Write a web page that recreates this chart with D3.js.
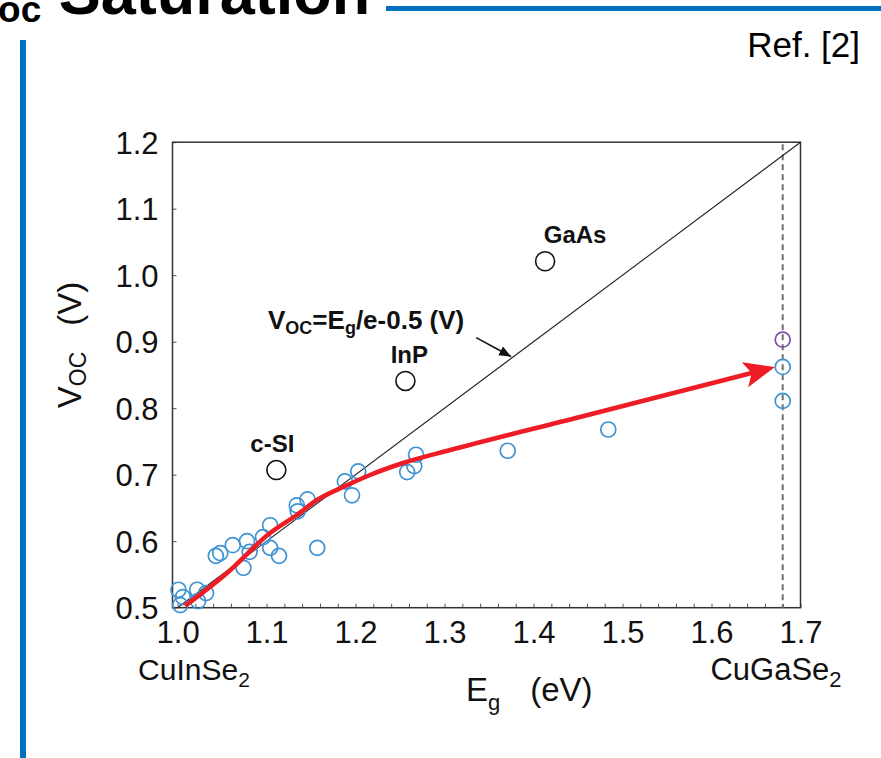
<!DOCTYPE html>
<html><head><meta charset="utf-8">
<script src="https://cdn.jsdelivr.net/npm/d3@7"></script>
<style>
html,body{margin:0;padding:0;background:#fff;overflow:hidden;}
svg{display:block;font-family:"Liberation Sans",Arial,Helvetica,sans-serif;}
</style></head><body>
<svg id="chart" width="881" height="758"></svg>
<script>
// Chalcopyrite (Cu(In,Ga)Se2) cells: band gap (eV) and open-circuit voltage (V)
const cigsEg  = [1.001,1.006,1.003,1.022,1.032,1.023,1.043,1.048,1.062,1.078,1.081,1.074,1.096,1.104,1.104,1.114,
                 1.134,1.135,1.146,1.157,1.188,1.196,1.203,1.258,1.266,1.268,1.371,1.484,1.680,1.680];
const cigsVoc = [0.527,0.516,0.504,0.527,0.522,0.510,0.578,0.582,0.594,0.600,0.584,0.560,0.606,0.624,0.590,0.578,
                 0.654,0.645,0.663,0.590,0.690,0.669,0.705,0.704,0.713,0.730,0.736,0.768,0.862,0.811];

// Single-crystal reference cells
const refNames = ["c-SI","InP","GaAs"];
const refEg    = [1.111,1.256,1.413];
const refVoc   = [0.707,0.841,1.021];

// Further CuGaSe2 result
const cgsEg  = [1.680];
const cgsVoc = [0.903];

// Trend of measured Voc with band gap
const trendEg  = [1.0084,1.0556,1.1039,1.1343,1.1567,1.1860,1.2163,1.2534,1.3062,1.4522,1.6713];
const trendVoc = [0.5026,0.5522,0.6123,0.6398,0.6620,0.6815,0.6996,0.7176,0.7371,0.7867,0.8619];

// Voc = Eg/e - 0.5 V, end points in Eg
const limitEg = [1.0,1.7];
const cuGaSe2Gap = 1.68;

const xTicks = [1.0,1.1,1.2,1.3,1.4,1.5,1.6,1.7];
const yTicks = [0.5,0.6,0.7,0.8,0.9,1.0,1.1,1.2];
const xMinor = d3.range(1.0,1.7001,0.02);

const svg = d3.select("#chart");
const BLUE = "#0070c0";

// slide frame: title, rule, side bar, reference
const title = svg.append("text").attr("x",-44).attr("y",14)
  .attr("font-weight","bold").attr("font-size",63).attr("fill","#000");
title.append("tspan").text("V");
title.append("tspan").attr("font-size",37).attr("dy",8).text("oc");
title.append("tspan").attr("dy",-8).text(" Saturation");
svg.append("rect").attr("x",386).attr("y",6).attr("width",495).attr("height",5).attr("fill",BLUE);
svg.append("rect").attr("x",20).attr("y",40).attr("width",6).attr("height",718).attr("fill",BLUE);
svg.append("text").attr("x",860).attr("y",57).attr("text-anchor","end")
  .attr("font-size",35).attr("fill","#000").text("Ref. [2]");

// plot scales
const x = d3.scaleLinear().domain([0.9943,1.7]).range([172.5,800.5]);
const y = d3.scaleLinear().domain([0.5,1.2]).range([607.7,142.2]);
const [x0,x1] = x.range(), [y0,y1] = y.range();

// axes
const xAxis = svg.append("g").attr("transform",`translate(0,${y0})`)
  .call(d3.axisBottom(x).tickValues(xTicks).tickFormat(d3.format(".1f")).tickSize(0).tickPadding(13));
const xMinorAxis = svg.append("g").attr("transform",`translate(0,${y0})`)
  .call(d3.axisBottom(x).tickValues(xMinor).tickFormat("").tickSizeInner(-4).tickSizeOuter(0));
const yAxis = svg.append("g").attr("transform",`translate(${x0},0)`)
  .call(d3.axisLeft(y).tickValues(yTicks).tickFormat(d3.format(".1f")).tickSizeInner(-4).tickSizeOuter(0).tickPadding(14));
[xAxis,xMinorAxis,yAxis].forEach(g=>{
  g.select(".domain").remove();
  g.selectAll("line").attr("stroke","#555").attr("stroke-width",1);
  g.selectAll("text").attr("font-size",31).attr("fill","#111").attr("font-family",null);
});
xAxis.selectAll("text").attr("dy","0.71em");
yAxis.selectAll("text").attr("dy","0.36em");

// frame
svg.append("rect").attr("x",x0).attr("y",y1).attr("width",x1-x0).attr("height",y0-y1)
  .attr("fill","none").attr("stroke","#333").attr("stroke-width",1.5);

// CuGaSe2 band-gap marker
svg.append("line").attr("x1",x(cuGaSe2Gap)).attr("x2",x(cuGaSe2Gap)).attr("y1",y1+2).attr("y2",y0)
  .attr("stroke","#6f6f6f").attr("stroke-width",2).attr("stroke-dasharray","6,4");

// Voc = Eg/e - 0.5 line
svg.append("path")
  .attr("d",d3.line().x(d=>x(d)).y(d=>y(d-0.5))(limitEg))
  .attr("fill","none").attr("stroke","#222").attr("stroke-width",1.1);

// reference cells
const refG = svg.append("g");
refG.selectAll("circle").data(refEg).join("circle")
  .attr("cx",d=>x(d)).attr("cy",(d,i)=>y(refVoc[i])).attr("r",9.5)
  .attr("fill","none").attr("stroke","#111").attr("stroke-width",1.6);
const refLabelDx = [-4,4,30];
refG.selectAll("text").data(refNames).join("text")
  .attr("x",(d,i)=>x(refEg[i])+refLabelDx[i]).attr("y",(d,i)=>y(refVoc[i])-18)
  .attr("text-anchor","middle").attr("font-weight","bold").attr("font-size",24).attr("fill","#111")
  .text(d=>d);

// measured chalcopyrite cells
svg.append("g").selectAll("circle").data(cigsEg).join("circle")
  .attr("cx",d=>x(d)).attr("cy",(d,i)=>y(cigsVoc[i])).attr("r",7.5)
  .attr("fill","none").attr("stroke","#4094d4").attr("stroke-width",1.7);
svg.append("g").selectAll("circle").data(cgsEg).join("circle")
  .attr("cx",d=>x(d)).attr("cy",(d,i)=>y(cgsVoc[i])).attr("r",7.5)
  .attr("fill","none").attr("stroke","#7b4fa6").attr("stroke-width",1.7);

// formula annotation with pointer onto the line
const formula = svg.append("text").attr("x",268).attr("y",329)
  .attr("font-weight","bold").attr("font-size",26).attr("fill","#111");
formula.append("tspan").text("V");
formula.append("tspan").attr("font-size",18).attr("dy",5).text("OC");
formula.append("tspan").attr("dy",-5).text("=E");
formula.append("tspan").attr("font-size",18).attr("dy",5).text("g");
formula.append("tspan").attr("dy",-5).text("/e-0.5 (V)");
const tipEg = 1.376, tipX = x(tipEg), tipY = y(tipEg-0.5);
svg.append("defs").append("marker").attr("id","smallHead")
  .attr("markerUnits","userSpaceOnUse").attr("markerWidth",14).attr("markerHeight",12)
  .attr("refX",12).attr("refY",5).attr("orient","auto")
  .append("path").attr("d","M0,0 L12,5 L0,10 Z").attr("fill","#111");
svg.append("line").attr("x1",tipX-36).attr("y1",tipY-20).attr("x2",tipX-1).attr("y2",tipY-1)
  .attr("stroke","#111").attr("stroke-width",1.6).attr("marker-end","url(#smallHead)");

// Voc trend arrow
svg.select("defs").append("marker").attr("id","redHead")
  .attr("markerUnits","userSpaceOnUse").attr("markerWidth",36).attr("markerHeight",30)
  .attr("refX",31).attr("refY",13).attr("orient","auto")
  .append("path").attr("d","M0,0 L31,13 L0,26 L7,13 Z").attr("fill","#ee1c24");
const trend = svg.append("path")
  .attr("d",d3.line().x(d=>x(d)).y((d,i)=>y(trendVoc[i])).curve(d3.curveMonotoneX)(trendEg))
  .attr("fill","none").attr("stroke","#ee1c24").attr("stroke-width",4.5).attr("stroke-linecap","butt")
  .attr("marker-end","url(#redHead)");
const L = trend.node().getTotalLength();
trend.attr("stroke-dasharray",`${L-14} ${L}`);

// axis titles
const yl = svg.append("text").attr("transform","translate(81,345) rotate(-90)")
  .attr("text-anchor","middle").attr("font-size",33).attr("fill","#111");
yl.append("tspan").text("V");
yl.append("tspan").attr("font-size",23).attr("dy",5).text("OC");
yl.append("tspan").attr("dy",-5).attr("dx",26).text("(V)");

const xl = svg.append("text").attr("x",466).attr("y",701).attr("font-size",33).attr("fill","#111");
xl.append("tspan").text("E");
xl.append("tspan").attr("font-size",22).attr("dy",9).text("g");
xl.append("tspan").attr("dy",-9).attr("dx",30).text("(eV)");

// end-member compounds
const endA = svg.append("text").attr("x",194).attr("y",680).attr("text-anchor","middle").attr("font-size",30).attr("fill","#111");
endA.append("tspan").text("CuInSe");
endA.append("tspan").attr("font-size",21).attr("dy",7).text("2");
const endB = svg.append("text").attr("x",776).attr("y",680).attr("text-anchor","middle").attr("font-size",31).attr("fill","#111");
endB.append("tspan").text("CuGaSe");
endB.append("tspan").attr("font-size",22).attr("dy",7).text("2");
</script>
</body></html>
